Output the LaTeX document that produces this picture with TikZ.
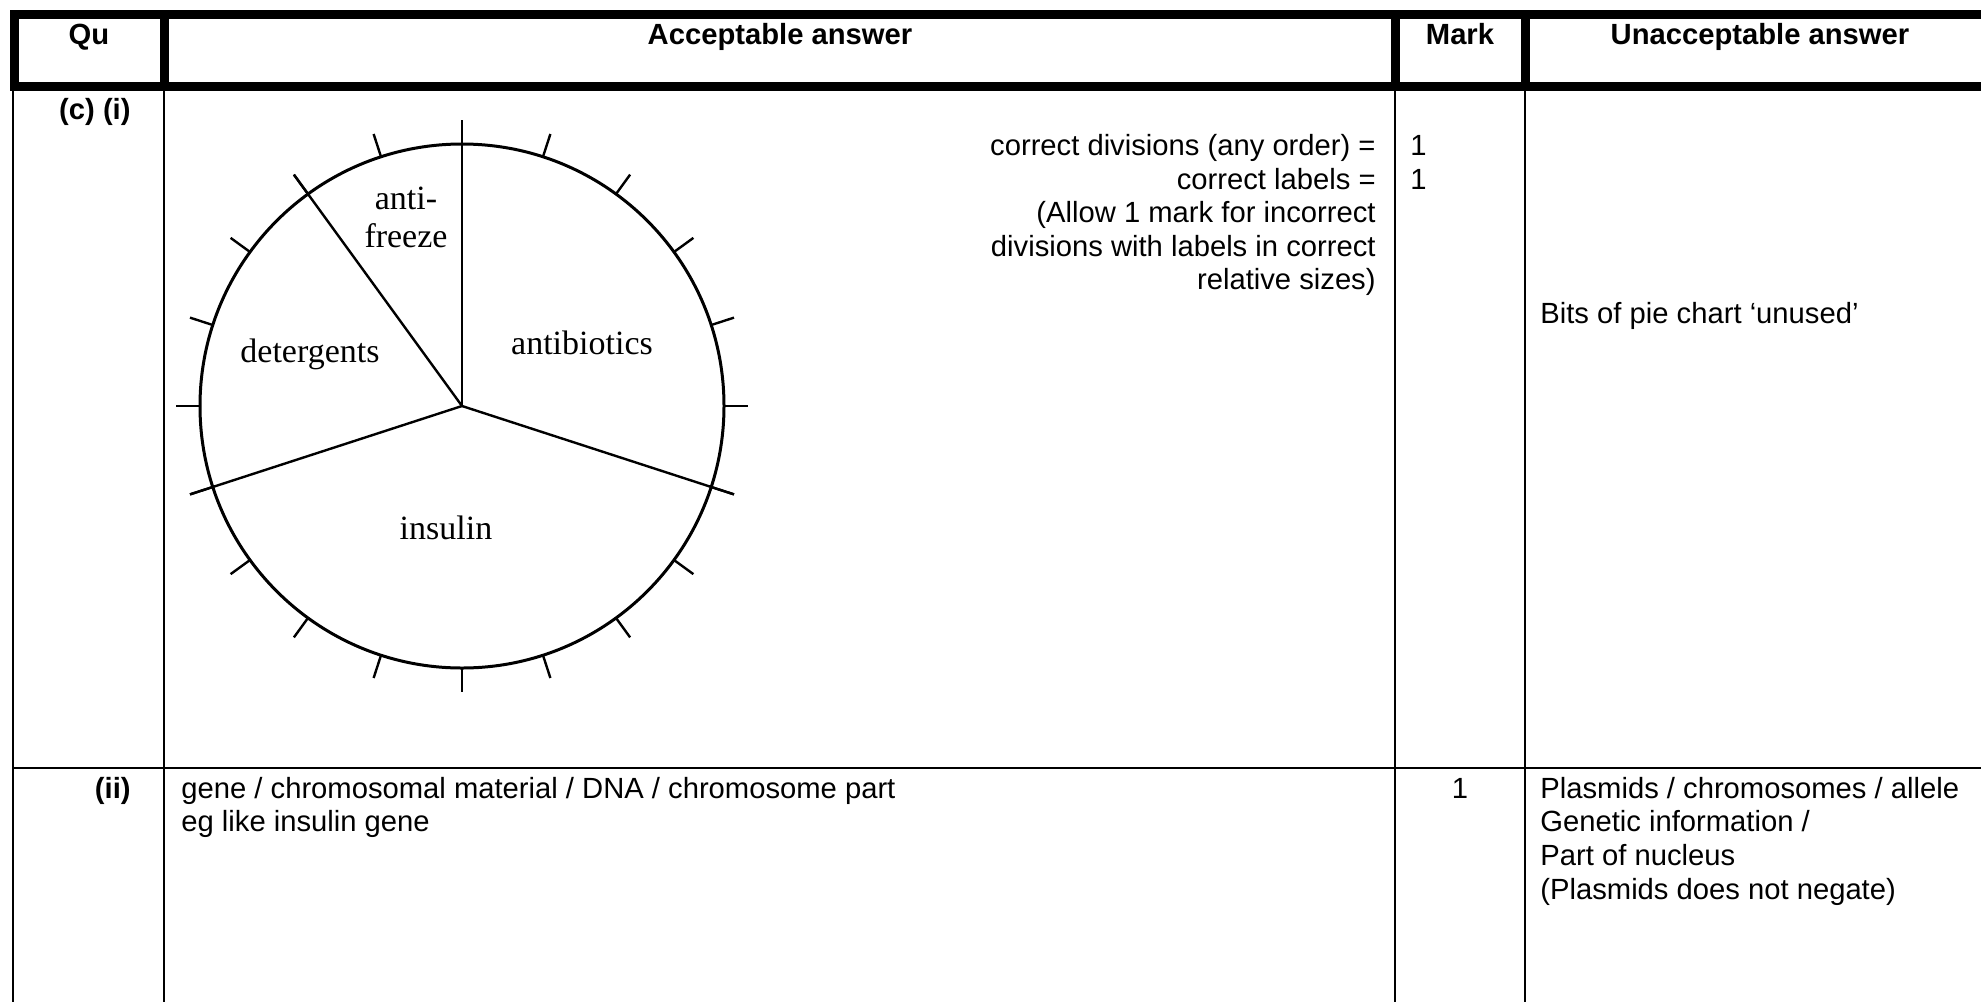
\documentclass[tikz,border=0pt]{standalone}
\usepackage{fontspec}
\newfontfamily\arialfont{Liberation Sans}
\newfontfamily\piefont{Liberation Serif}
\usetikzlibrary{positioning}

\tikzset{
  cell/.style={font=\arialfont\fontsize{14.6}{16.75}\selectfont, inner sep=0pt},
  head/.style={font=\arialfont\bfseries\fontsize{14.6}{16.75}\selectfont, inner sep=0pt, anchor=base},
  pielabel/.style={font=\piefont\fontsize{17}{20}\selectfont, inner sep=0pt, anchor=base},
  thickrule/.style={line width=4.5pt},
  thinrule/.style={line width=1pt},
  rim/.style={line width=1.5pt},
  spoke/.style={line width=1.2pt}
}

\begin{document}
\begin{tikzpicture}[x=0.5pt,y=-0.5pt]
        \useasboundingbox (0,0) rectangle (1981,1002);

        \draw[thickrule] (14,14.5) rectangle (2000,86.5);
        \draw[thickrule] (164,14.5)--(164,86.5);
        \draw[thickrule] (1395,14.5)--(1395,86.5);
        \draw[thickrule] (1525,14.5)--(1525,86.5);

        \draw[thinrule] (13,86.5)--(13,1002);
        \draw[thinrule] (164,86.5)--(164,1002);
        \draw[thinrule] (1395,86.5)--(1395,1002);
        \draw[thinrule] (1525,86.5)--(1525,1002);
        \draw[thinrule] (13,768)--(1981,768);

        \node[head] (qu) at (89,44) {Qu};
        \node[head] (acc) at (780,44) {Acceptable answer};
        \node[head] (mark) at (1460,44) {Mark};
        \node[head] (unacc) at (1760,44) {Unacceptable answer};

        \node[head, anchor=base east] (qci) at (131,119) {(c) (i)};
        \node[head, anchor=base east] (qii) at (131,798) {(ii)};

        \coordinate (pc) at (462,406);
        \draw[rim] (pc) circle[radius=262];
        \foreach \a in {0,18,...,342}
            \draw[spoke] ([shift={(\a:262)}]pc)--([shift={(\a:286)}]pc);
        \draw[spoke] (pc)--([shift={(-90:286)}]pc);
        \draw[spoke] (pc)--([shift={(-126:286)}]pc);
        \draw[spoke] (pc)--([shift={(-198:286)}]pc);
        \draw[spoke] (pc)--([shift={(-342:286)}]pc);

        \node[pielabel] (anti) at (406,209) {anti-};
        \node[pielabel] (freeze) at (406,247) {freeze};
        \node[pielabel] (deterg) at (310,362) {detergents};
        \node[pielabel] (antib) at (582,354) {antibiotics};
        \node[pielabel] (insul) at (446,539) {insulin};

        \node[cell, anchor=base east] (crit1) at (1376,155) {correct divisions (any order) =};
        \node[cell, anchor=base east] (crit2) at (1376,189) {correct labels =};
        \node[cell, anchor=base east] (crit3) at (1376,222) {(Allow 1 mark for incorrect};
        \node[cell, anchor=base east] (crit4) at (1376,256) {divisions with labels in correct};
        \node[cell, anchor=base east] (crit5) at (1376,289) {relative sizes)};
        \node[cell, anchor=base west] (mk1) at (1410,155) {1};
        \node[cell, anchor=base west] (mk2) at (1410,189) {1};
        \node[cell, anchor=base west] (bits) at (1540,323) {Bits of pie chart ‘unused’};

        \node[cell, anchor=base west] (gene) at (181,798) {gene / chromosomal material / DNA / chromosome part};
        \node[cell, anchor=base west] (eg) at (181,831) {eg like insulin gene};
        \node[cell, anchor=base] (mk3) at (1460,798) {1};
        \node[cell, anchor=base west] (un1) at (1540,798) {Plasmids / chromosomes / allele};
        \node[cell, anchor=base west] (un2) at (1540,831) {Genetic information /};
        \node[cell, anchor=base west] (un3) at (1540,865) {Part of nucleus};
        \node[cell, anchor=base west] (un4) at (1540,899) {(Plasmids does not negate)};
\end{tikzpicture}
\end{document}
